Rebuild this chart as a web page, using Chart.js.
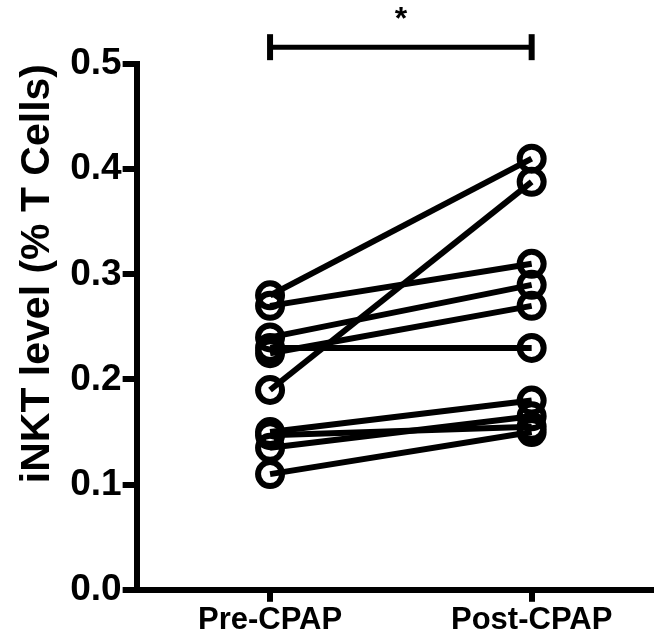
<!DOCTYPE html>
<html>
<head>
<meta charset="utf-8">
<script src="https://cdn.jsdelivr.net/npm/chart.js@4"></script>
<style>
html,body{margin:0;padding:0;background:#fff;}
#wrap{width:654px;height:639px;position:relative;}
</style>
</head>
<body>
<div id="wrap"><canvas id="c" width="654" height="639"></canvas></div>
<script>
const categories = ['Pre-CPAP', 'Post-CPAP'];
const preCPAP  = [0.28, 0.27, 0.24, 0.225, 0.23, 0.19, 0.15, 0.147, 0.135, 0.11];
const postCPAP = [0.41, 0.31, 0.29, 0.27, 0.23, 0.388, 0.18, 0.155, 0.165, 0.15];
const yTicks = [0.0, 0.1, 0.2, 0.3, 0.4, 0.5];
const yTitle = 'iNKT level (% T Cells)';
const sigLabel = '*';
const bracketLevel = 0.516;

const FONT = "'Liberation Sans', Arial, sans-serif";
const datasets = preCPAP.map((v, i) => ({
  data: [{x: 1, y: v}, {x: 2, y: postCPAP[i]}],
  borderColor: '#000',
  borderWidth: 6,
  pointRadius: 12,
  pointHoverRadius: 12,
  pointBorderWidth: 6,
  pointBorderColor: '#000',
  pointBackgroundColor: 'rgba(0,0,0,0)',
  pointStyle: 'circle',
  fill: false,
  clip: false
}));
datasets.push({
  data: [{x: 1, y: bracketLevel}, {x: 2, y: bracketLevel}],
  borderColor: '#000',
  borderWidth: 5,
  pointStyle: 'line',
  pointRotation: 90,
  pointRadius: 13,
  pointBorderWidth: 6,
  pointBorderColor: '#000',
  clip: false
});

const sigPlugin = {
  id: 'sig',
  afterDraw(chart) {
    const {ctx, scales} = chart;
    const x = (scales.x.getPixelForValue(1) + scales.x.getPixelForValue(2)) / 2;
    ctx.save();
    ctx.fillStyle = '#000';
    ctx.font = 'bold 32px ' + FONT;
    ctx.textAlign = 'center';
    ctx.textBaseline = 'top';
    ctx.fillText(sigLabel, x, 4);
    ctx.restore();
  }
};

new Chart(document.getElementById('c'), {
  type: 'line',
  data: { datasets },
  plugins: [sigPlugin],
  options: {
    responsive: false,
    animation: false,
    layout: { autoPadding: false, padding: { top: 64, right: 2, bottom: 0, left: 13 } },
    plugins: { legend: { display: false }, tooltip: { enabled: false } },
    scales: {
      x: {
        type: 'linear',
        min: 0.49,
        max: 2.46,
        afterBuildTicks(scale) { scale.ticks = categories.map((c, i) => ({ value: i + 1 })); },
        afterFit(scale) { scale.paddingLeft = 0; scale.paddingRight = 0; },
        ticks: {
          callback: (v) => categories[v - 1] || '',
          color: '#000',
          font: { family: FONT, size: 31, weight: 'bold' },
          padding: 0,
          maxRotation: 0,
          autoSkip: false
        },
        grid: { drawOnChartArea: false, drawTicks: true, tickLength: 12, color: '#000', lineWidth: 6 },
        border: { display: true, color: '#000', width: 6 }
      },
      y: {
        min: 0,
        max: 0.5,
        afterBuildTicks(scale) { scale.ticks = yTicks.map(v => ({ value: v })); },
        ticks: {
          callback: (v) => v.toFixed(1),
          color: '#000',
          font: { family: FONT, size: 37, weight: 'bold' },
          padding: 1
        },
        grid: { drawOnChartArea: false, drawTicks: true, tickLength: 14, color: '#000', lineWidth: 6 },
        border: { display: true, color: '#000', width: 6 },
        title: {
          display: true,
          text: yTitle,
          align: 'end',
          color: '#000',
          font: { family: FONT, size: 41, weight: 'bold' },
          padding: { top: 0, bottom: 7 }
        }
      }
    }
  }
});
</script>
</body>
</html>
